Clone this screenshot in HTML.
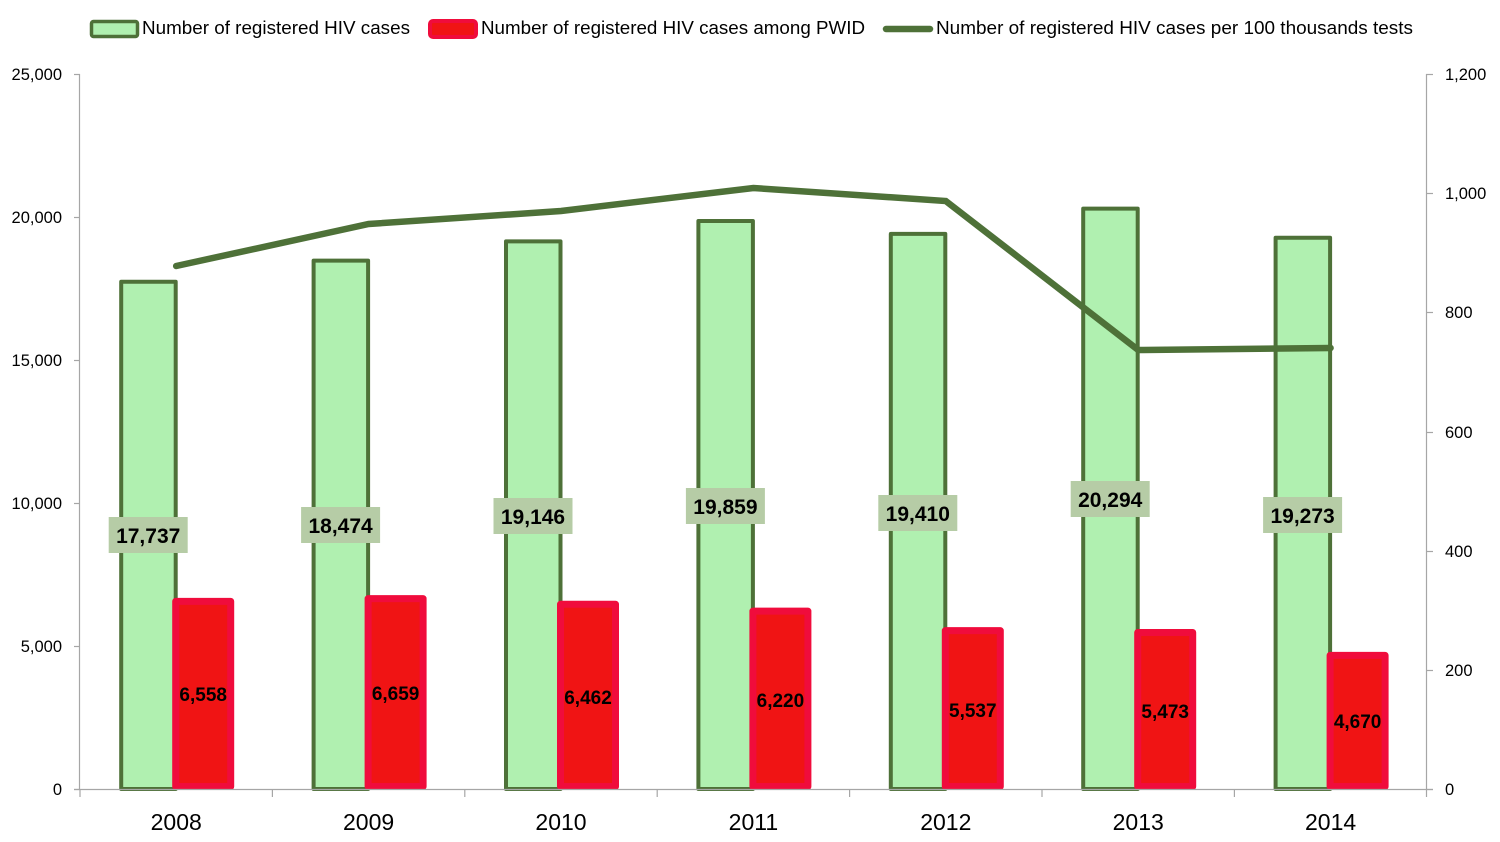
<!DOCTYPE html>
<html><head><meta charset="utf-8"><style>
html,body{margin:0;padding:0;background:#fff;}
svg{display:block;}
text{font-family:"Liberation Sans",sans-serif;fill:#000;}
</style></head><body>
<svg width="1500" height="842" viewBox="0 0 1500 842" xmlns="http://www.w3.org/2000/svg">
<!-- Legend -->
<rect x="91.5" y="21.5" width="46" height="15" rx="2" fill="#b0f0b0" stroke="#4e7138" stroke-width="3.5"/>
<text x="142" y="34" font-size="18" textLength="268" lengthAdjust="spacingAndGlyphs">Number of registered HIV cases</text>
<rect x="430" y="21" width="46" height="16" rx="3" fill="#f01414" stroke="#f00c3c" stroke-width="4"/>
<text x="481" y="34" font-size="18" textLength="384" lengthAdjust="spacingAndGlyphs">Number of registered HIV cases among PWID</text>
<line x1="886" y1="29" x2="930" y2="29" stroke="#4e7138" stroke-width="6.5" stroke-linecap="round"/>
<text x="936" y="34" font-size="18" textLength="477" lengthAdjust="spacingAndGlyphs">Number of registered HIV cases per 100 thousands tests</text>

<!-- Axes -->
<g stroke="#a6a6a6" stroke-width="1.2" fill="none">
<line x1="79.5" y1="74" x2="79.5" y2="790"/>
<line x1="74" y1="74.5" x2="80" y2="74.5"/>
<line x1="74" y1="217.5" x2="80" y2="217.5"/>
<line x1="74" y1="360.5" x2="80" y2="360.5"/>
<line x1="74" y1="503.5" x2="80" y2="503.5"/>
<line x1="74" y1="646.5" x2="80" y2="646.5"/>
<line x1="74" y1="789.5" x2="80" y2="789.5"/>
<line x1="1426.5" y1="74" x2="1426.5" y2="790"/>
<line x1="1426" y1="74.5" x2="1433" y2="74.5"/>
<line x1="1426" y1="193.5" x2="1433" y2="193.5"/>
<line x1="1426" y1="312.5" x2="1433" y2="312.5"/>
<line x1="1426" y1="432.5" x2="1433" y2="432.5"/>
<line x1="1426" y1="551.5" x2="1433" y2="551.5"/>
<line x1="1426" y1="670.5" x2="1433" y2="670.5"/>
<line x1="1426" y1="789.5" x2="1433" y2="789.5"/>
</g>

<!-- Left tick labels -->
<g font-size="16.5" text-anchor="end">
<text x="62" y="80">25,000</text>
<text x="62" y="223">20,000</text>
<text x="62" y="366">15,000</text>
<text x="62" y="509">10,000</text>
<text x="62" y="652">5,000</text>
<text x="62" y="795">0</text>
</g>
<!-- Right tick labels -->
<g font-size="16.5" text-anchor="start">
<text x="1445" y="80">1,200</text>
<text x="1445" y="199">1,000</text>
<text x="1445" y="318">800</text>
<text x="1445" y="438">600</text>
<text x="1445" y="557">400</text>
<text x="1445" y="676">200</text>
<text x="1445" y="795">0</text>
</g>

<!-- Green bars (center c: 176.2,368.6,561,753.4,945.8,1138.2,1330.6) -->
<g fill="#b0f0b0" stroke="#4e7138" stroke-width="4" stroke-linejoin="round">
<rect x="121.2" y="281.7" width="54.5" height="507.3"/>
<rect x="313.6" y="260.6" width="54.5" height="528.4"/>
<rect x="506" y="241.4" width="54.5" height="547.6"/>
<rect x="698.4" y="221" width="54.5" height="568"/>
<rect x="890.8" y="233.9" width="54.5" height="555.1"/>
<rect x="1083.2" y="208.6" width="54.5" height="580.4"/>
<rect x="1275.6" y="237.8" width="54.5" height="551.2"/>
</g>

<!-- Red bars -->
<g fill="#f01414" stroke="#f00c3c" stroke-width="7" stroke-linejoin="round">
<rect x="175.7" y="601.4" width="55" height="185.1"/>
<rect x="368.1" y="598.6" width="55" height="187.9"/>
<rect x="560.5" y="604.2" width="55" height="182.3"/>
<rect x="752.9" y="611.1" width="55" height="175.4"/>
<rect x="945.3" y="630.6" width="55" height="155.9"/>
<rect x="1137.7" y="632.5" width="55" height="154"/>
<rect x="1330.1" y="655.4" width="55" height="131.1"/>
</g>

<!-- Bottom axis -->
<g stroke="#a6a6a6" stroke-width="1.2">
<line x1="74" y1="789.5" x2="1433" y2="789.5"/>
<line x1="80" y1="789" x2="80" y2="797"/>
<line x1="272.4" y1="789" x2="272.4" y2="797"/>
<line x1="464.8" y1="789" x2="464.8" y2="797"/>
<line x1="657.2" y1="789" x2="657.2" y2="797"/>
<line x1="849.6" y1="789" x2="849.6" y2="797"/>
<line x1="1042" y1="789" x2="1042" y2="797"/>
<line x1="1234.4" y1="789" x2="1234.4" y2="797"/>
<line x1="1426.5" y1="789" x2="1426.5" y2="797"/>
</g>

<!-- Line series -->
<polyline points="176.2,266 368.6,224 561,211 753.4,188 945.8,201 1138.2,350 1330.6,348" fill="none" stroke="#4e7138" stroke-width="6.5" stroke-linejoin="miter" stroke-linecap="round"/>

<!-- Green labels -->
<g fill="#b6cca6">
<rect x="108.7" y="517" width="79" height="36"/>
<rect x="301.1" y="507" width="79" height="36"/>
<rect x="493.5" y="498" width="79" height="36"/>
<rect x="685.9" y="488" width="79" height="36"/>
<rect x="878.3" y="495" width="79" height="36"/>
<rect x="1070.7" y="481" width="79" height="36"/>
<rect x="1263.1" y="497" width="79" height="36"/>
</g>
<g font-size="21" font-weight="bold" text-anchor="middle">
<text x="148.2" y="543">17,737</text>
<text x="340.6" y="533">18,474</text>
<text x="533" y="524">19,146</text>
<text x="725.4" y="514">19,859</text>
<text x="917.8" y="521">19,410</text>
<text x="1110.2" y="507">20,294</text>
<text x="1302.6" y="523">19,273</text>
</g>

<!-- Red labels -->
<g font-size="19" font-weight="bold" text-anchor="middle">
<text x="203.2" y="701">6,558</text>
<text x="395.6" y="700">6,659</text>
<text x="588" y="704">6,462</text>
<text x="780.4" y="707">6,220</text>
<text x="972.8" y="717">5,537</text>
<text x="1165.2" y="718">5,473</text>
<text x="1357.6" y="728">4,670</text>
</g>

<!-- X labels -->
<g font-size="23" text-anchor="middle">
<text x="176.2" y="830">2008</text>
<text x="368.6" y="830">2009</text>
<text x="561" y="830">2010</text>
<text x="753.4" y="830">2011</text>
<text x="945.8" y="830">2012</text>
<text x="1138.2" y="830">2013</text>
<text x="1330.6" y="830">2014</text>
</g>
</svg>
</body></html>
